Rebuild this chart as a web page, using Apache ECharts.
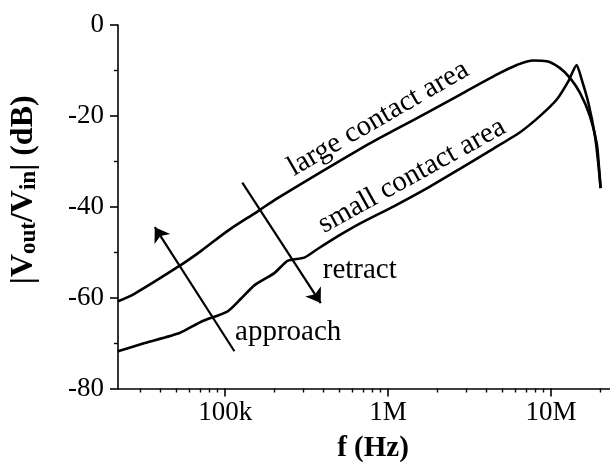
<!DOCTYPE html>
<html>
<head>
<meta charset="utf-8">
<script src="https://cdn.jsdelivr.net/npm/echarts@6/dist/echarts.min.js"></script>
<style>
  html, body { margin: 0; padding: 0; background: #fff; }
  #chart { width: 610px; height: 468px; }
</style>
</head>
<body>
<div id="chart"></div>
<script>
// Frequency range of the log axis (Hz)
const freqMin = 22000;
const freqMax = 2.3e7;

// Major frequency ticks and their labels
const majorFreqs = [1e5, 1e6, 1e7];
const majorLabels = ['100k', '1M', '10M'];
// Minor frequency ticks (2..9 per decade)
const minorFreqs = [3e4, 4e4, 5e4, 6e4, 7e4, 8e4, 9e4,
  2e5, 3e5, 4e5, 5e5, 6e5, 7e5, 8e5, 9e5,
  2e6, 3e6, 4e6, 5e6, 6e6, 7e6, 8e6, 9e6, 2e7];

// Transfer magnitude, large contact area
const largeFreq = [22000, 27900, 52500, 71300, 103700, 158500, 210000, 679000, 1084000,
  1738000, 2773000, 4436000, 6166000, 7798000, 9419000, 11350000, 13060000,
  15030000, 17300000, 19010000, 19600000, 20140000];
const largeDb = [-60.8, -59.1, -53.0, -49.7, -45.3, -41.0, -38.1, -27.2, -23.2,
  -19.3, -15.3, -11.3, -8.8, -7.8, -8.0, -9.5, -11.65,
  -14.9, -20.0, -25.8, -30.5, -35.9];

// Transfer magnitude, small contact area
const smallFreq = [22000, 32100, 52500, 71300, 103700, 125300, 151000, 200400, 241500,
  305500, 369000, 512900, 679000, 1084000, 1738000, 2773000, 4436000, 6457000,
  8570000, 10840000, 12760000, 14350000, 15420000, 16940000, 18580000, 19450000, 20140000];
const smallDb = [-71.8, -70.0, -67.8, -65.3, -63.0, -60.2, -57.3, -54.6, -51.9,
  -51.2, -49.3, -46.1, -43.6, -39.9, -35.9, -31.6, -27.2, -23.6,
  -20.0, -16.4, -12.4, -8.8, -12.0, -17.1, -24.3, -30.1, -35.9];

// Arrows: [tail, head] in (Hz, dB)
const approachArrow = [[114000, -71.8], [37000, -44.5]];
const retractArrow = [[127400, -34.7], [386000, -61.2]];

// Text annotations: [Hz, dB]
const largeLabelPos = [870000, -20.6];
const smallLabelPos = [1400000, -33.2];
const retractLabelPos = [397000, -54.0];
const approachLabelPos = [115000, -67.6];

const serif = "'Liberation Serif', 'Times New Roman', serif";
const zip = (xs, ys) => xs.map((x, i) => [x, ys[i]]);
const lg = Math.log10;

const chart = echarts.init(document.getElementById('chart'));

const textPoint = (pos, text, rotate, align) => ({
  coord: pos,
  symbol: 'circle',
  symbolSize: 0,
  label: {
    show: true, formatter: text, position: 'inside', rotate: rotate, align: align,
    verticalAlign: 'middle', color: '#000', fontFamily: serif, fontSize: 29
  }
});

const arrowLine = (a) => [{ coord: a[0] }, { coord: a[1] }];

const option = {
  backgroundColor: '#fff',
  animation: false,
  grid: { left: 117, right: 0, top: 25, bottom: 75 },
  xAxis: [
    {
      type: 'log', min: freqMin, max: freqMax,
      name: 'f (Hz)', nameLocation: 'middle', nameGap: 47,
      nameTextStyle: { fontFamily: serif, fontSize: 29, lineHeight: 26, fontWeight: 'bold', color: '#000', padding: [0, 0, 0, 18] },
      axisLine: { show: true, onZero: false, lineStyle: { color: '#000', width: 1.6 } },
      axisTick: { show: false }, splitLine: { show: false },
      axisLabel: { showMinLabel: false, showMaxLabel: false, margin: 11, color: '#000', fontFamily: serif, fontSize: 27,
        formatter: (v) => { const i = majorFreqs.findIndex(f => Math.abs(lg(f) - lg(v)) < 1e-6); return i >= 0 ? majorLabels[i] : ''; } }
    },
    { // major frequency ticks
      type: 'value', position: 'bottom', min: lg(freqMin), max: lg(freqMax), axisLine: { show: false, onZero: false }, axisLabel: { show: false }, splitLine: { show: false },
      axisTick: { show: true, length: 8, customValues: majorFreqs.map(lg), lineStyle: { color: '#000', width: 1.6 } } },
    { // minor frequency ticks
      type: 'value', position: 'bottom', min: lg(freqMin), max: lg(freqMax), axisLine: { show: false, onZero: false }, axisLabel: { show: false }, splitLine: { show: false },
      axisTick: { show: true, length: 4, customValues: minorFreqs.map(lg), lineStyle: { color: '#000', width: 1.4 } } }
  ],
  yAxis: {
    type: 'value', min: -80, max: 0, interval: 20,
    name: '{t|\u007CV}{s|out}{t|/V}{s|in}{t|\u007C (dB)}',
    nameLocation: 'middle', nameGap: 77, nameRotate: 90,
    nameTextStyle: {
      padding: [0, 0, 0, 34],
      rich: {
        t: { fontFamily: serif, fontSize: 32, fontWeight: 'bold', color: '#000', lineHeight: 34, verticalAlign: 'middle' },
        s: { fontFamily: serif, fontSize: 23, fontWeight: 'bold', color: '#000', lineHeight: 34, verticalAlign: 'bottom' }
      }
    },
    axisLine: { show: true, onZero: false, lineStyle: { color: '#000', width: 1.6 } },
    axisTick: { show: true, length: 8, lineStyle: { color: '#000', width: 1.6 } },
    minorTick: { show: true, splitNumber: 2, length: 4, lineStyle: { color: '#000', width: 1.4 } },
    splitLine: { show: false }, minorSplitLine: { show: false },
    axisLabel: { margin: 14, color: '#000', fontFamily: serif, fontSize: 27 }
  },
  series: [
    {
      name: 'large contact area', type: 'line', data: zip(largeFreq, largeDb),
      showSymbol: false, symbol: 'none', smooth: 0.35,
      lineStyle: { color: '#000', width: 2.6 },
      markPoint: {
        silent: true,
        data: [
          textPoint(largeLabelPos, 'large contact area', 30, 'center'),
          textPoint(smallLabelPos, 'small contact area', 29, 'center'),
          textPoint(retractLabelPos, 'retract', 0, 'left'),
          textPoint(approachLabelPos, 'approach', 0, 'left')
        ]
      },
      markLine: {
        silent: true, symbol: ['none', 'arrow'], symbolSize: 14,
        label: { show: false },
        lineStyle: { color: '#000', width: 2.2, type: 'solid' },
        data: [arrowLine(approachArrow), arrowLine(retractArrow)]
      }
    },
    {
      name: 'small contact area', type: 'line', data: zip(smallFreq, smallDb),
      showSymbol: false, symbol: 'none', smooth: 0.2,
      lineStyle: { color: '#000', width: 2.6 }
    }
  ]
};
chart.setOption(option);
</script>
</body>
</html>
